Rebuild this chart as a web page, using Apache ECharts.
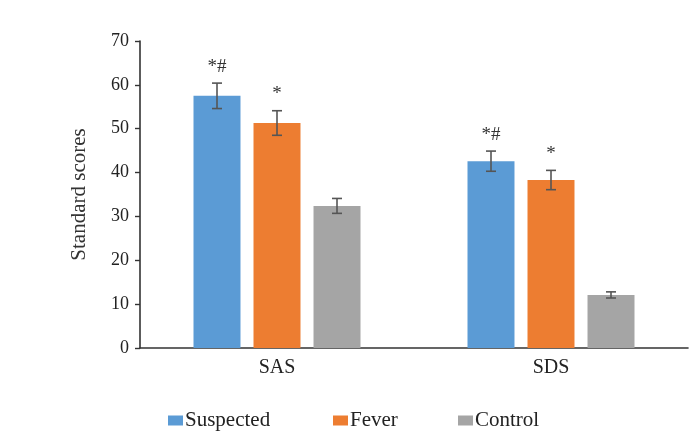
<!DOCTYPE html>
<html>
<head>
<meta charset="utf-8">
<script src="https://cdn.jsdelivr.net/npm/echarts@6/dist/echarts.min.js"></script>
<style>html,body{margin:0;padding:0;background:#fff}#c{width:700px;height:446px}</style>
</head>
<body>
<div id="c"></div>
<script>
const categories = ['SAS', 'SDS'];
const seriesNames = ['Suspected', 'Fever', 'Control'];
const suspected = [57.5, 42.6];
const fever = [51.3, 38.3];
const control = [32.4, 12.1];
const suspectedErr = [2.9, 2.3];
const feverErr = [2.8, 2.2];
const controlErr = [1.7, 0.7];
const suspectedMark = ['*#', '*#'];
const feverMark = ['*', '*'];
const controlMark = ['', ''];
const yTicks = [0, 10, 20, 30, 40, 50, 60, 70];

const colors = ['#5B9BD5', '#ED7D31', '#A5A5A5'];
const values = [suspected, fever, control];
const errs = [suspectedErr, feverErr, controlErr];
const marks = [suspectedMark, feverMark, controlMark];
const FONT = '"Liberation Serif", "Times New Roman", serif';

const chart = echarts.init(document.getElementById('c'));

const stepFrac = 60 / 274;

const series = [];
values.forEach((vals, i) => {
  series.push({
    name: seriesNames[i], type: 'bar', data: vals,
    barWidth: '17.15%', barGap: '27.7%',
    itemStyle: { color: colors[i] }
  });
});
values.forEach((vals, i) => {
  series.push({
    type: 'custom', name: seriesNames[i] + ' err',
    data: vals.map((v, k) => [k, v, errs[i][k]]),
    z: 10, silent: true,
    renderItem: function (params, api) {
      const k = api.value(0), v = api.value(1), e = api.value(2);
      const band = api.size([1, 0])[0];
      const off = (i - 1) * stepFrac * band;
      const hi = api.coord([k, v + e]);
      const lo = api.coord([k, v - e]);
      const x = hi[0] + off;
      const cap = 5;
      const st = { stroke: '#555555', lineWidth: 1.6 };
      const children = [
        { type: 'line', shape: { x1: x, y1: hi[1], x2: x, y2: lo[1] }, style: st },
        { type: 'line', shape: { x1: x - cap, y1: hi[1], x2: x + cap, y2: hi[1] }, style: st },
        { type: 'line', shape: { x1: x - cap, y1: lo[1], x2: x + cap, y2: lo[1] }, style: st }
      ];
      const m = marks[i][k];
      if (m) {
        children.push({
          type: 'text',
          style: { text: m, x: x, y: hi[1] - 7, align: 'center', verticalAlign: 'bottom',
                   fill: '#333', font: '19px ' + FONT }
        });
      }
      return { type: 'group', children: children };
    }
  });
});

const legendBase = {
  bottom: 15, padding: 0, itemWidth: 15, itemHeight: 10, icon: 'rect',
  textStyle: { fontFamily: FONT, fontSize: 21, color: '#222', padding: [0, 0, 0, -3] }
};

chart.setOption({
  animation: false,
  backgroundColor: '#fff',
  color: colors,
  grid: { left: 140, right: 12, top: 41, bottom: 98 },
  legend: [
    Object.assign({}, legendBase, { data: ['Suspected'], left: 168 }),
    Object.assign({}, legendBase, { data: ['Fever'], left: 333 }),
    Object.assign({}, legendBase, { data: ['Control'], left: 458 })
  ],
  xAxis: {
    type: 'category', data: categories,
    axisLine: { lineStyle: { color: '#333', width: 1.6 } },
    axisTick: { show: false },
    axisLabel: { fontFamily: FONT, fontSize: 20, color: '#222', margin: 10 }
  },
  yAxis: {
    type: 'value', min: yTicks[0], max: yTicks[yTicks.length - 1], interval: 10,
    name: 'Standard scores', nameLocation: 'middle', nameGap: 50,
    nameTextStyle: { fontFamily: FONT, fontSize: 21, color: '#333' },
    axisLine: { show: true, lineStyle: { color: '#333', width: 1.6 } },
    axisTick: { show: true, length: 5, lineStyle: { color: '#333', width: 1.4 } },
    splitLine: { show: false },
    axisLabel: { fontFamily: FONT, fontSize: 18, color: '#222', margin: 11 }
  },
  series: series
});
</script>
</body>
</html>
